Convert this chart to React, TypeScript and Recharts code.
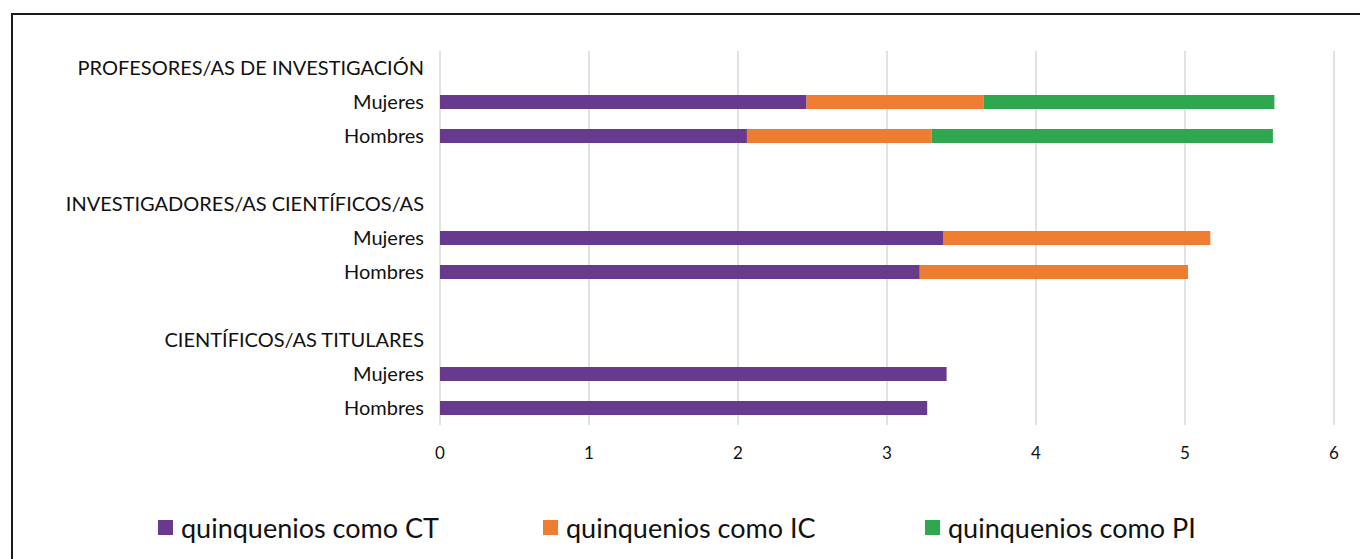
import { BarChart, Bar, XAxis, YAxis, CartesianGrid, Legend } from "recharts";

const rowLabels = [
  "PROFESORES/AS DE INVESTIGACIÓN",
  "Mujeres",
  "Hombres",
  "",
  "INVESTIGADORES/AS CIENTÍFICOS/AS",
  "Mujeres",
  "Hombres",
  "",
  "CIENTÍFICOS/AS TITULARES",
  "Mujeres",
  "Hombres",
];
const quinqCT = [null, 2.46, 2.06, null, null, 3.38, 3.22, null, null, 3.4, 3.27];
const quinqIC = [null, 1.19, 1.24, null, null, 1.79, 1.8, null, null, null, null];
const quinqPI = [null, 1.95, 2.29, null, null, null, null, null, null, null, null];
const xTicks = [0, 1, 2, 3, 4, 5, 6];

const seriesNames = ["quinquenios como CT", "quinquenios como IC", "quinquenios como PI"];
const colors = ["#673a8e", "#ee7d31", "#2ea74f"];

const data = rowLabels.map((label, i) => ({
  row: i,
  label,
  ct: quinqCT[i],
  ic: quinqIC[i],
  pi: quinqPI[i],
}));

const FONT = "Lato, 'Open Sans', sans-serif";

const CategoryTick = (props: any) => {
  const { x, y, payload } = props;
  return (
    <text x={x - 8} y={y} dy={7} textAnchor="end" fill="#111" fontSize={20} fontFamily={FONT}>
      {rowLabels[payload.value]}
    </text>
  );
};

const LegendContent = () => (
  <div style={{ position: "relative", height: 40, fontFamily: FONT }}>
    {seriesNames.map((name, i) => (
      <div
        key={name}
        style={{
          position: "absolute",
          left: [158, 543, 925][i],
          top: 3,
          display: "flex",
          alignItems: "center",
          fontSize: 27,
          color: "#111",
          whiteSpace: "nowrap",
        }}
      >
        <span style={{ width: 15, height: 15, background: colors[i], display: "inline-block", marginRight: 8 }} />
        {name}
      </div>
    ))}
  </div>
);

export default function App() {
  return (
    <div style={{ position: "fixed", left: 0, top: 0, width: 1360, height: 559, overflow: "hidden", background: "#fff" }}>
      <div
        style={{
          position: "absolute",
          left: 11,
          top: 13,
          width: 1400,
          height: 600,
          border: "2px solid #1a1a1a",
        }}
      />
      <div style={{ position: "absolute", left: 0, top: 0 }}>
        <BarChart
          width={1360}
          height={559}
          data={data}
          layout="vertical"
          margin={{ top: 51, right: 26, bottom: 64, left: 0 }}
          barSize={14}
        >
          <CartesianGrid horizontal={false} stroke="#d9d9d9" strokeWidth={1.5} />
          <XAxis
            type="number"
            domain={[0, 6]}
            ticks={xTicks}
            axisLine={false}
            tickLine={false}
            height={30}
            tick={{ fill: "#111", fontSize: 17, fontFamily: FONT }}
            tickMargin={16}
          />
          <YAxis
            type="category"
            dataKey="row"
            width={440}
            axisLine={false}
            tickLine={false}
            interval={0}
            tick={<CategoryTick />}
          />
          <Legend
            verticalAlign="bottom"
            height={40}
            content={<LegendContent />}
            wrapperStyle={{ position: "absolute", left: 0, top: 508, width: 1360, height: 40 }}
          />
          <Bar dataKey="ct" stackId="a" fill={colors[0]} name={seriesNames[0]} isAnimationActive={false} />
          <Bar dataKey="ic" stackId="a" fill={colors[1]} name={seriesNames[1]} isAnimationActive={false} />
          <Bar dataKey="pi" stackId="a" fill={colors[2]} name={seriesNames[2]} isAnimationActive={false} />
        </BarChart>
      </div>
    </div>
  );
}
